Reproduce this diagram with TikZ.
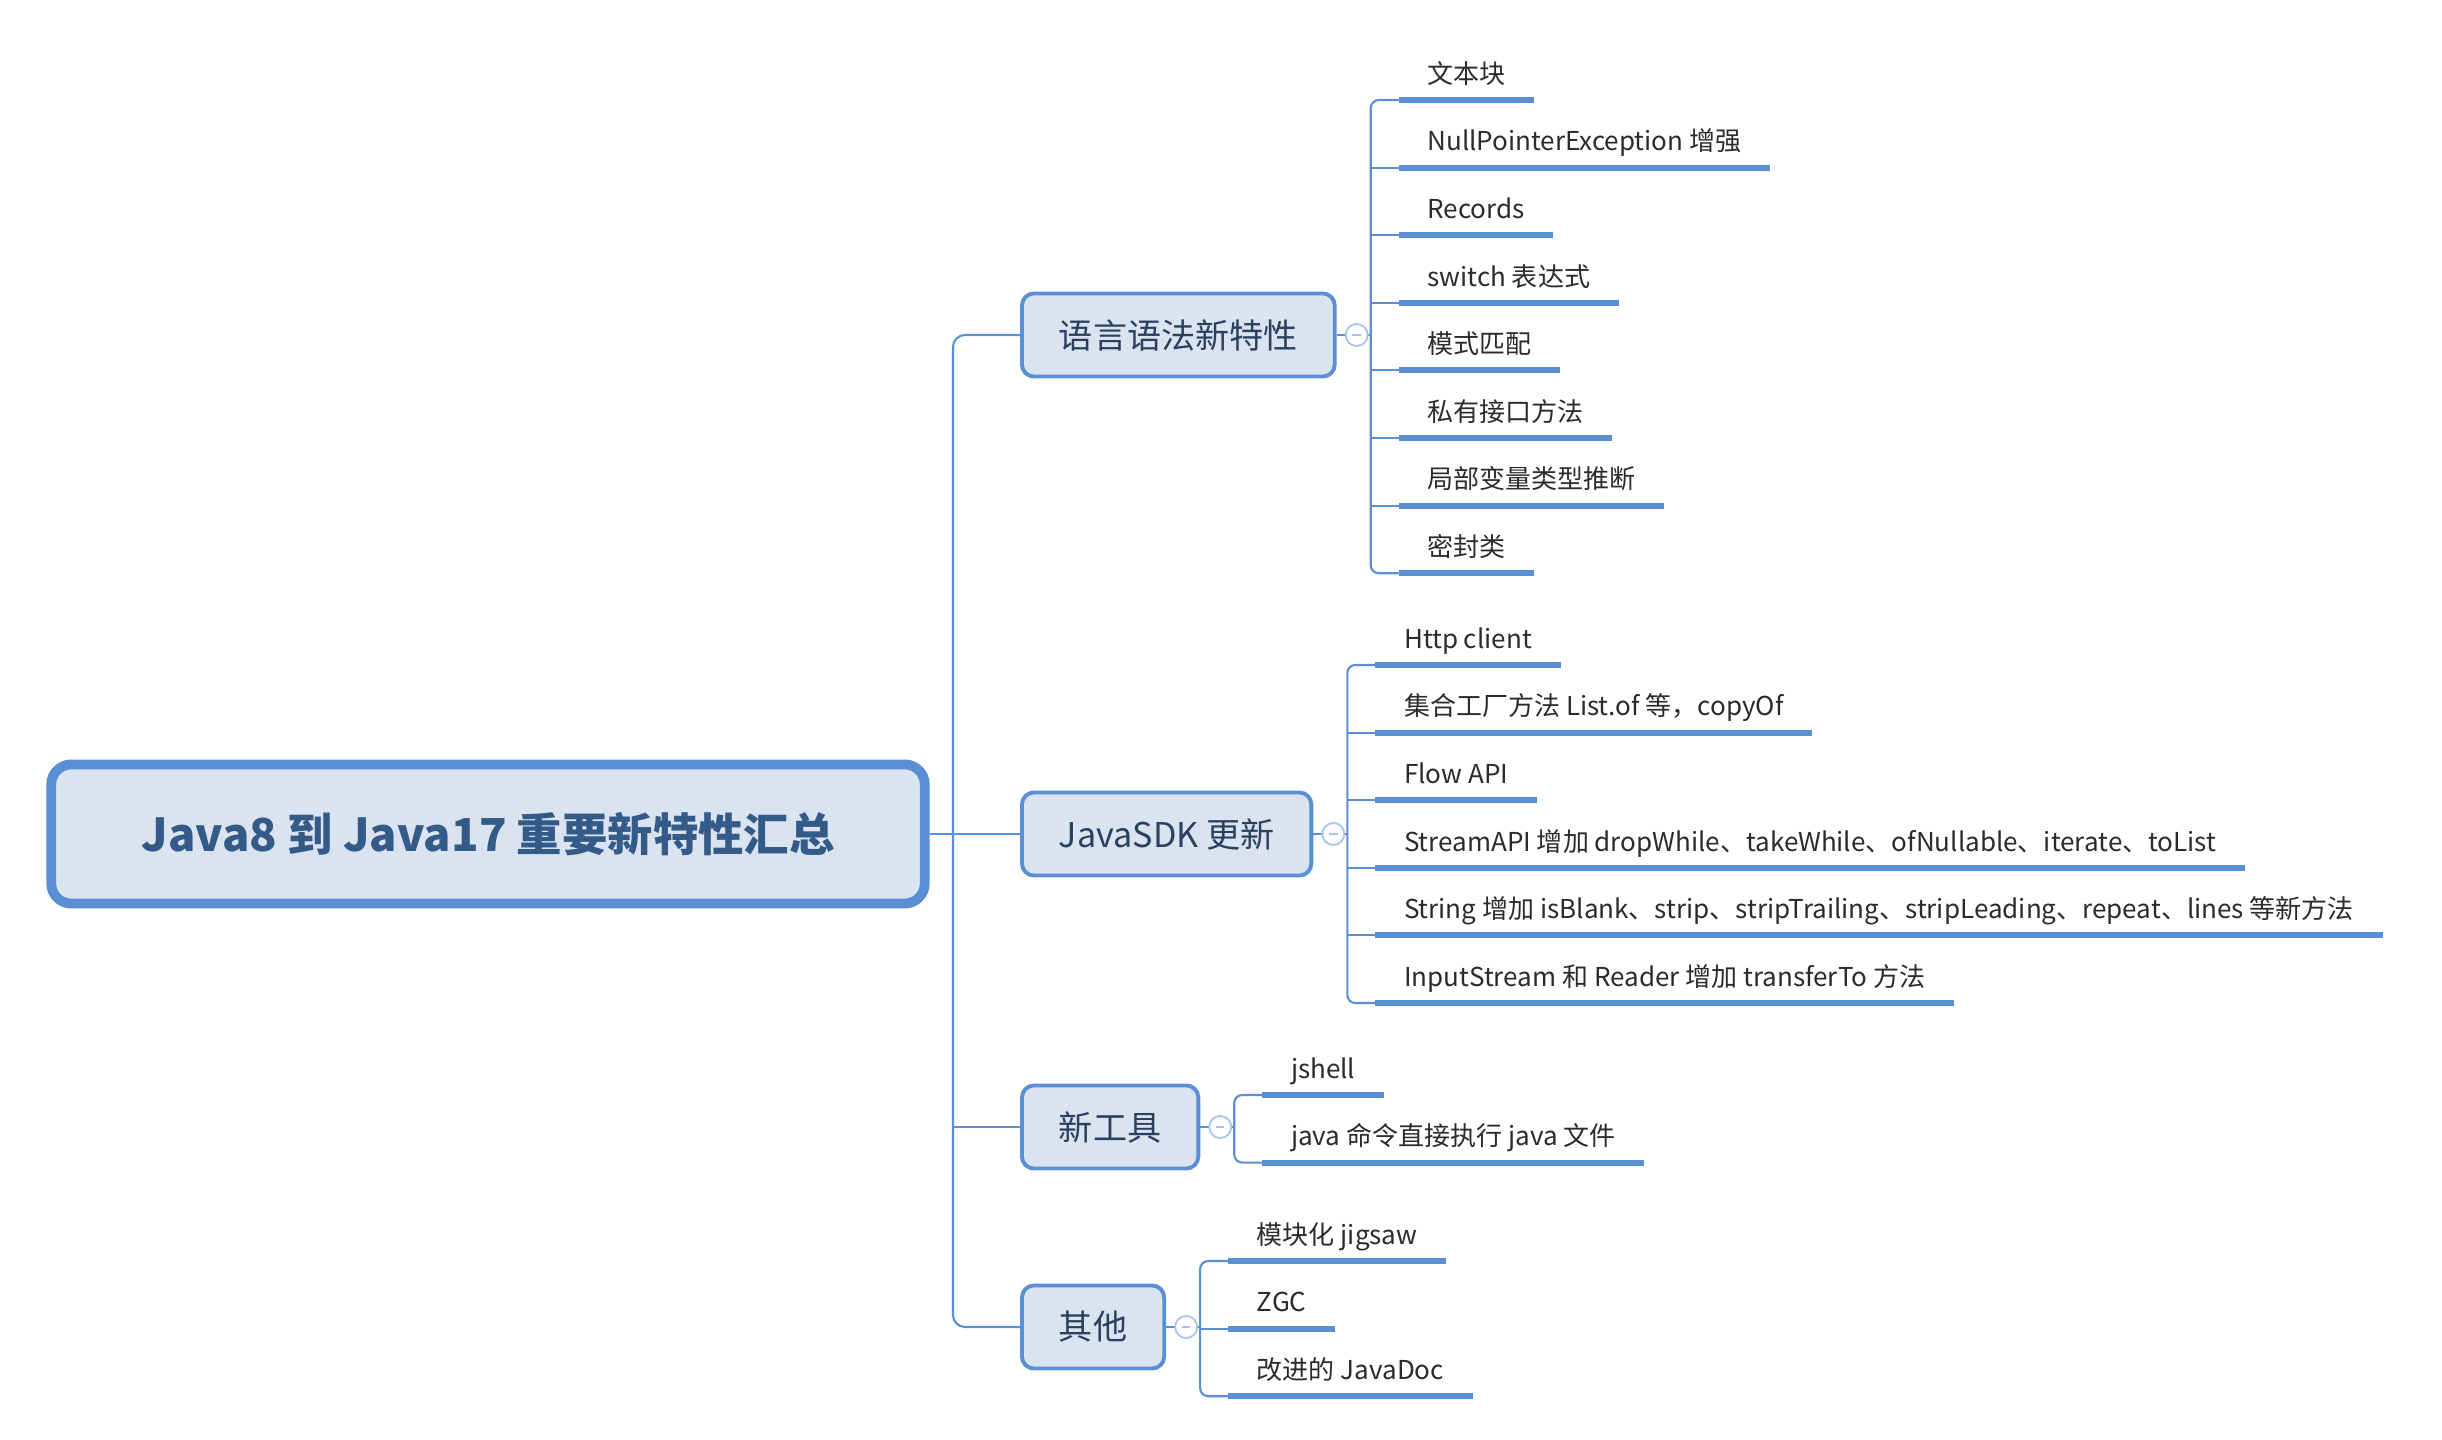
\documentclass[tikz,border=0pt]{standalone}
\usepackage{fontspec}
\setmainfont{Noto Sans CJK SC}
\usetikzlibrary{positioning}

\definecolor{lineblue}{HTML}{5A8ED5}
\definecolor{boxfill}{HTML}{DAE4F1}
\definecolor{titleblue}{HTML}{345A88}
\definecolor{boxtext}{HTML}{2B405E}
\definecolor{foldblue}{HTML}{A8C2EC}
\definecolor{leafgray}{HTML}{2B2B2B}

\begin{document}
\begin{tikzpicture}[x=0.01cm,y=-0.01cm,
  link/.style={draw=lineblue,line width=0.6pt},
  topic/.style={draw=lineblue,line width=2.8pt,fill=boxfill,rounded corners=0.2cm,
                minimum width=8.73cm,minimum height=1.39cm,
                font=\fontsize{12.9}{15}\selectfont\bfseries,text=titleblue},
  branch/.style={draw=lineblue,line width=1.1pt,fill=boxfill,rounded corners=0.12cm,
                 minimum height=0.83cm,inner xsep=0.37cm,anchor=west,
                 font=\fontsize{9.7}{12}\selectfont,text=boxtext},
  fold/.style={circle,draw=foldblue,fill=white,line width=0.5pt,
               minimum size=0.22cm,inner sep=0pt,
               path picture={\draw[foldblue,line width=0.5pt]
                 ([xshift=-1.2pt]path picture bounding box.center) --
                 ([xshift=1.2pt]path picture bounding box.center);}},
  leaf/.style={anchor=south west,inner xsep=0.28cm,inner ysep=0pt,
               text height=0.2cm,text depth=0.16cm,
               font=\fontsize{7.4}{9}\selectfont,text=leafgray},
  uline/.style={draw=lineblue,line width=1.7pt},
]
  \useasboundingbox (0,0) rectangle (2442,1440);

  % centre topic
  \node[topic] (root) at (488,834) {Java8 到 Java17 重要新特性汇总};

  % main branches
  \node[branch] (b1) at (1020,335)  {语言语法新特性};
  \node[branch] (b2) at (1020,834)  {JavaSDK 更新};
  \node[branch] (b3) at (1020,1127) {新工具};
  \node[branch] (b4) at (1020,1327) {其他};

  \coordinate (trunk) at (953,834);
  \draw[link,rounded corners=0.12cm] (b1.west) -| (trunk) |- (b4.west);
  \draw[link] (root.east) -- (b2.west);
  \draw[link] (b3.west -| trunk) -- (b3.west);

  % forks behind each branch
  \foreach \b in {1,...,4}
    \coordinate[xshift=0.34cm] (f\b) at (b\b.east);

  % leaves
  \foreach \t [count=\i from 0, evaluate=\i as \yy using 100+67.6*\i] in
    {文本块, NullPointerException 增强, Records, switch 表达式, 模式匹配,
     私有接口方法, 局部变量类型推断, 密封类}
    \node[leaf,xshift=0.28cm] (s\i) at (f1 |- 0,\yy) {\t};

  \foreach \t [count=\i from 0, evaluate=\i as \yy using 665+67.6*\i] in
    {Http client, 集合工厂方法 List.of 等，copyOf, Flow API,
     StreamAPI 增加 dropWhile、takeWhile、ofNullable、iterate、toList,
     String 增加 isBlank、strip、stripTrailing、stripLeading、repeat、lines 等新方法,
     InputStream 和 Reader 增加 transferTo 方法}
    \node[leaf,xshift=0.28cm] (d\i) at (f2 |- 0,\yy) {\t};

  \foreach \t [count=\i from 0, evaluate=\i as \yy using 1095+67.6*\i] in
    {jshell, java 命令直接执行 java 文件}
    \node[leaf,xshift=0.28cm] (n\i) at (f3 |- 0,\yy) {\t};

  \foreach \t [count=\i from 0, evaluate=\i as \yy using 1261+67.6*\i] in
    {模块化 jigsaw, ZGC, 改进的 JavaDoc}
    \node[leaf,xshift=0.28cm] (o\i) at (f4 |- 0,\yy) {\t};

  % underlines
  \foreach \n in {s0,s1,s2,s3,s4,s5,s6,s7,d0,d1,d2,d3,d4,d5,n0,n1,o0,o1,o2}
    \draw[uline] (\n.south west) -- (\n.south east);

  % fork lines
  \draw[link,rounded corners=0.08cm] (s0.south west) -| (f1) |- (s7.south west);
  \foreach \i in {1,...,6}
    \draw[link] (s\i.south west -| f1) -- (s\i.south west);
  \draw[link,rounded corners=0.08cm] (d0.south west) -| (f2) |- (d5.south west);
  \foreach \i in {1,...,4}
    \draw[link] (d\i.south west -| f2) -- (d\i.south west);
  \draw[link,rounded corners=0.08cm] (n0.south west) -| (f3) |- (n1.south west);
  \draw[link,rounded corners=0.08cm] (o0.south west) -| (f4) |- (o2.south west);
  \draw[link] (o1.south west -| f4) -- (o1.south west);

  % branch to fork, with fold marks
  \foreach \b in {1,...,4}{
    \draw[link] (b\b.east) -- (f\b);
    \node[fold,xshift=0.2cm] (c\b) at (b\b.east) {};
  }
\end{tikzpicture}
\end{document}
